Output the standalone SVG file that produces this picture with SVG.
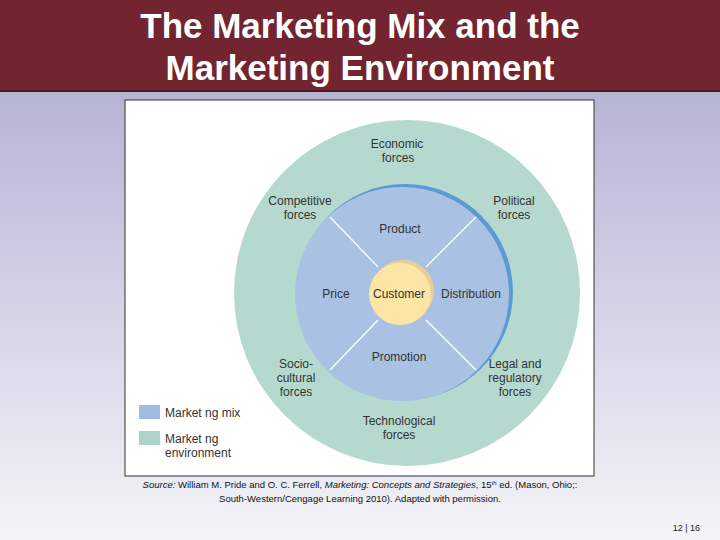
<svg xmlns="http://www.w3.org/2000/svg" width="720" height="540" viewBox="0 0 720 540">
<defs>
<linearGradient id="bg" x1="0" y1="0" x2="0" y2="1">
<stop offset="0" stop-color="#a9a7cc"/><stop offset="0.6" stop-color="#d6d5e8"/><stop offset="1" stop-color="#f4f4f8"/>
</linearGradient>
<style>
.t{font-family:"Liberation Sans",Arial,sans-serif;font-size:12px;fill:#333;text-anchor:middle}
.h{font-family:"Liberation Sans",Arial,sans-serif;font-size:35px;font-weight:bold;fill:#fff;text-anchor:middle}
.s{font-family:"Liberation Sans",Arial,sans-serif;font-size:9.5px;fill:#111;text-anchor:middle}
.d{stroke:#fff;stroke-width:1.3}
</style>
</defs>
<rect width="720" height="540" fill="url(#bg)"/>
<rect width="720" height="90" fill="#722530"/>
<line x1="0" y1="91" x2="720" y2="91" stroke="#4a1820" stroke-width="2"/>
<text class="h" x="360" y="38">The Marketing Mix and the</text>
<text class="h" x="360" y="80">Marketing Environment</text>
<rect x="125" y="100" width="469" height="376" fill="#fff" stroke="#333" stroke-width="1"/>
<g id="environment">
<circle cx="407" cy="293" r="173" fill="#b6d9cf"/>
<text class="t" x="397" y="148">Economic</text><text class="t" x="398" y="162">forces</text>
<text class="t" x="300" y="205">Competitive</text><text class="t" x="300" y="219">forces</text>
<text class="t" x="514" y="205">Political</text><text class="t" x="514" y="219">forces</text>
<text class="t" x="296" y="368">Socio-</text><text class="t" x="296" y="382">cultural</text><text class="t" x="296" y="396">forces</text>
<text class="t" x="515" y="368">Legal and</text><text class="t" x="515" y="382">regulatory</text><text class="t" x="515" y="396">forces</text>
<text class="t" x="399" y="425">Technological</text><text class="t" x="399" y="439">forces</text>
</g>
<g id="mix">
<circle cx="405" cy="292" r="108" fill="#5b9bd5"/>
<circle cx="402" cy="294" r="107" fill="#a9c2e4"/>
</g>
<g id="connectors">
<line class="d" x1="330" y1="217" x2="378" y2="267"/>
<line class="d" x1="476" y1="217" x2="426" y2="267"/>
<line class="d" x1="330" y1="370" x2="378" y2="320"/>
<line class="d" x1="476" y1="370" x2="426" y2="320"/>
</g>
<g id="labels">
<text class="t" x="400" y="233">Product</text>
<text class="t" x="336" y="298">Price</text>
<text class="t" x="471" y="298">Distribution</text>
<text class="t" x="399" y="361">Promotion</text>
</g>
<g id="customer">
<circle cx="403" cy="291" r="31" fill="#e8cf94"/>
<circle cx="400" cy="294" r="31" fill="#fde5a6"/>
<text class="t" x="399" y="298">Customer</text>
</g>
<g id="legend">
<rect x="139" y="405" width="21" height="14" fill="#9fbbe0"/>
<text class="t" x="165" y="417" style="text-anchor:start">Market ng mix</text>
<rect x="139" y="431" width="21" height="14" fill="#acd3c8"/>
<text class="t" x="165" y="443" style="text-anchor:start">Market ng</text>
<text class="t" x="165" y="457" style="text-anchor:start">environment</text>
</g>
<text class="s" x="360" y="488"><tspan font-style="italic">Source:</tspan> William M. Pride and O. C. Ferrell, <tspan font-style="italic">Marketing: Concepts and Strategies</tspan>, 15<tspan font-size="6" dy="-3">th</tspan><tspan dy="3"> ed.  (Mason, Ohio;:</tspan></text>
<text class="s" x="360" y="502">South-Western/Cengage Learning 2010).  Adapted with permission.</text>
<text x="700" y="531" style="font-family:'Liberation Sans',Arial,sans-serif;font-size:9px;fill:#222;text-anchor:end">12 | 16</text>
</svg>
